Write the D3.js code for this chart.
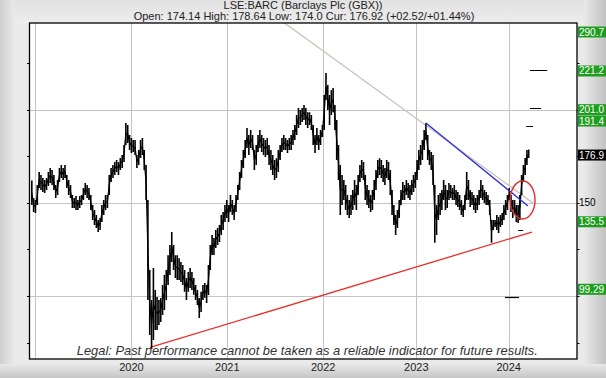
<!DOCTYPE html>
<html><head><meta charset="utf-8">
<script src="https://cdn.jsdelivr.net/npm/d3@7"></script>
<style>body{margin:0;background:#e6e6e6}svg{display:block}</style>
</head><body><svg id="c" width="606" height="378"></svg>
<script>
// ---------------- data ----------------
const titleText = "LSE:BARC (Barclays Plc (GBX))";
const subtitleText = "Open: 174.14 High: 178.64 Low: 174.0 Cur: 176.92 (+02.52/+01.44%)";
const legalText = "Legal:  Past performance cannot  be taken as a reliable indicator for future results.";
const yearGrid = ["2019-01-01","2020-01-01","2021-01-01","2022-01-01","2023-01-01","2024-01-01"];
const yearLabels = ["2020","2021","2022","2023","2024"];
const yMinorTicks = [75,100,125,150,175,200,225];
const yGridTicks = [100,150,200];
const yAxisLabels = [100,150,200];
const firstWeek = "2018-12-17";
// weekly [high, low] in pence
const bars2019 = [
 [161.9,148.8],[152.5,145.0],[151.5,144.5],[159.5,148.8],[166.5,157.9],[164.9,156.8],[163.3,155.8],[162.2,155.2],[163.3,156.8],[166.5,159.0],[168.6,160.6],[167.6,159.5],[164.9,156.8],
 [159.5,152.5],[162.2,154.2],[168.6,161.1],[170.2,163.3],[168.6,162.2],[170.2,163.3],[164.9,157.9],[162.2,154.2],[159.5,152.5],[154.2,147.2],[152.5,147.2],[153.6,146.1],[151.5,146.1],
 [153.6,147.2],[154.2,148.8],[157.9,151.5],[160.6,154.2],[159.5,152.5],[157.9,151.5],[154.2,146.1],[148.8,140.7],[146.1,138.1],[143.4,136.4],[140.7,134.3],[141.8,135.4],[148.8,139.7],
 [151.5,143.4],[154.2,146.1],[154.2,147.2],[164.9,154.2],[168.6,161.1],[170.2,163.3],[171.8,164.9],[172.9,166.5],[171.8,164.9],[174.0,167.6],[175.6,168.6],[181.0,171.8],[192.8,181.0],
 [191.7,182.1],[186.3,178.3],[184.7,176.7]
];
const bars2020 = [
 [183.6,177.2],[183.6,175.6],[175.6,168.6],[178.3,170.2],[183.6,174.0],[184.7,175.6],[178.3,167.6],[170.2,151.5],[151.5,97.9],[113.9,79.1],[97.9,71.6],[115.0,76.4],[103.2,81.8],
 [99.5,81.8],[97.9,84.5],[98.9,86.1],[105.9,89.8],[111.2,92.5],[113.9,97.9],[121.9,105.9],[127.3,111.2],[134.3,118.2],[127.3,113.9],[121.9,109.7],[121.9,108.6],[120.3,108.6],
 [118.2,107.5],[116.6,105.9],[113.9,102.2],[109.7,97.9],[112.8,102.2],[115.0,104.3],[112.8,103.2],[109.7,100.6],[105.9,97.9],[103.2,95.2],[98.9,88.2],[102.2,91.4],[105.9,97.9],
 [107.0,99.0],[105.9,96.3],[116.6,100.5],[127.3,113.9],[132.7,122.0],[131.1,122.0],[135.4,125.7],[136.4,127.3],[138.1,129.0],[143.4,132.7],[145.0,135.4],[148.8,139.7],[151.5,141.8]
];
const bars2021 = [
 [148.8,139.7],[154.2,145.0],[151.5,143.4],[148.8,140.7],[154.2,145.0],[159.5,151.5],[166.5,156.8],[172.9,163.3],[178.3,168.6],[183.6,174.0],[190.1,179.4],[186.3,175.6],[189.0,179.4],
 [186.3,178.3],[178.3,167.6],[181.0,170.2],[186.3,177.2],[189.0,179.4],[186.3,177.2],[184.7,175.6],[183.6,174.5],[184.7,175.6],[181.0,170.2],[178.3,167.6],[175.6,164.9],[172.9,162.2],
 [173.9,163.3],[178.3,166.5],[181.0,172.9],[184.7,177.2],[186.3,178.3],[184.7,178.3],[183.6,176.7],[184.7,178.3],[186.3,178.3],[189.0,181.0],[191.7,183.6],[197.1,186.3],[200.8,190.1],
 [199.7,191.7],[200.8,193.3],[202.4,194.4],[200.8,191.7],[198.6,190.1],[198.6,191.7],[197.1,189.0],[191.7,181.0],[186.3,176.7],[190.1,181.0],[186.3,178.3],[189.0,181.0],[191.7,185.2]
];
const bars2022 = [
 [207.8,189.0],[219.6,205.1],[213.2,199.7],[207.8,191.7],[210.5,197.1],[211.6,198.6],[202.4,189.0],[194.4,172.9],[181.0,162.2],[170.2,143.4],[164.9,148.8],[162.2,151.5],[159.5,146.1],
 [154.2,143.4],[151.5,141.8],[154.2,143.4],[156.8,146.1],[162.2,148.8],[159.5,146.1],[164.9,154.2],[170.2,161.1],[172.9,163.3],[171.8,162.2],[164.9,151.5],[159.5,148.8],[156.8,147.2],
 [154.2,145.0],[156.8,146.1],[162.2,151.5],[167.6,156.8],[172.9,163.3],[173.9,164.9],[172.9,163.3],[170.2,161.1],[168.6,159.5],[172.9,163.3],[171.8,162.2],[167.6,154.2],[156.8,143.4],
 [148.8,138.1],[143.4,132.7],[146.1,136.4],[151.5,141.8],[156.8,148.8],[161.1,151.5],[159.5,151.5],[162.2,154.2],[160.6,152.5],[159.5,151.5],[162.2,154.2],[164.9,155.8],[166.5,157.9]
];
const bars2023 = [
 [172.9,162.2],[178.3,167.6],[181.0,170.2],[183.6,172.9],[189.0,178.3],[192.8,183.6],[186.3,172.9],[178.3,170.2],[177.2,167.6],[175.6,159.5],[159.5,128.6],[148.8,132.7],[154.2,140.7],
 [155.2,143.4],[156.8,146.1],[162.2,151.5],[159.5,146.1],[156.8,147.2],[160.6,151.5],[159.5,152.5],[157.9,151.5],[159.5,151.5],[156.8,148.8],[155.8,147.7],[154.2,146.1],[151.5,143.4],
 [148.8,142.3],[154.2,146.1],[166.5,151.5],[162.2,151.5],[156.8,147.7],[155.8,148.8],[154.2,146.1],[152.5,144.5],[154.2,146.1],[156.8,148.8],[162.2,152.5],[159.5,151.5],[156.8,149.9],
 [155.8,148.8],[154.2,148.8],[151.5,143.4],[140.7,128.6],[140.7,135.4],[140.7,137.0],[143.4,135.4],[142.3,133.8],[143.4,137.0],[144.5,138.1],[148.8,140.7],[151.5,143.4],[154.2,146.1]
];
const bars2024 = [
 [157.9,151.5],[154.2,145.0],[151.5,141.8],[151.5,143.4],[148.8,139.7],[148.8,139.2],[154.2,140.7],[164.9,154.2],[170.2,161.1],[174.0,164.9],[178.3,170.2],[178.6,174.0]
];
// analysis overlays
const greyTrend = [["2021-08-01",247.0],["2024-04-06",149.9]];
const blueTrend = [["2023-02-08",192.8],["2024-03-17",148.3]];
const redTrend  = [["2020-03-12",72.4],["2024-04-02",134.3]];
const circle = {date:"2024-02-25", price:151.5, days:49, pence:10.2};
const targetValues = [290.7, 221.2, 201.0, 191.4, 135.5, 99.29];
const targetLabels = ["290.7","221.2","201.0","191.4","135.5","99.29"];
const targetFrom = [null,"2024-03-25","2024-03-25","2024-03-10","2024-02-07","2023-12-17"];
const targetTo   = [null,"2024-06-01","2024-05-08","2024-04-06","2024-02-27","2024-02-11"];
const currentPrice = 176.92, currentLabel = "176.9";

// ---------------- layout ----------------
const W = 606, H = 378;
const P = {l:29.5, r:577, t:23, b:359};
const svg = d3.select("#c");
const parse = d3.utcParse("%Y-%m-%d");
const allBars = [].concat(bars2019,bars2020,bars2021,bars2022,bars2023,bars2024);
const week0 = parse(firstWeek);
const series = allBars.map((d,i)=>({date:d3.utcDay.offset(week0, i*7+2), hi:d[0], lo:d[1]}));

const pw = P.r - P.l;
const xDomain = [parse("2018-12-10")].concat(yearGrid.map(parse), [parse("2024-09-27")]);
const xRangeFrac = [0, 0.0104, 0.1861, 0.3613, 0.5364, 0.7065, 0.8753, 1];
const x = d3.scaleUtc().domain(xDomain).range(xRangeFrac.map(f=>P.l + f*pw));
const y = d3.scaleLinear().domain([66.2, 246.4]).range([P.b, P.t]);

// ---------------- background frame ----------------
const defs = svg.append("defs");
function grad(id, x2, y2, c0, c1){
  const g = defs.append("linearGradient").attr("id",id).attr("x1",0).attr("y1",0).attr("x2",x2).attr("y2",y2);
  g.append("stop").attr("offset",0).attr("stop-color",c0);
  g.append("stop").attr("offset",1).attr("stop-color",c1);
}
grad("gl",1,0,"#cfcfcf","#e9e9e9");
grad("gr",1,0,"#e9e9e9","#c2c2c2");
grad("gb",0,1,"#e9e9e9","#c6c6c6");
grad("gt",0,1,"#e2e2e2","#ededed");
svg.append("rect").attr("width",W).attr("height",H).attr("fill","#eaeaea");
svg.append("rect").attr("width",W).attr("height",24).attr("fill","url(#gt)");
svg.append("rect").attr("x",0).attr("width",14).attr("height",H).attr("fill","url(#gl)");
svg.append("rect").attr("x",584).attr("width",22).attr("height",H).attr("fill","url(#gr)");
svg.append("rect").attr("y",364).attr("width",W).attr("height",14).attr("fill","url(#gb)");

defs.append("clipPath").attr("id","clip").append("rect")
  .attr("x",P.l).attr("y",P.t).attr("width",pw).attr("height",P.b-P.t);

svg.append("rect").attr("x",P.l).attr("y",P.t).attr("width",pw).attr("height",P.b-P.t).attr("fill","#fff");

const grid = svg.append("g").attr("stroke","#c4c4c4").attr("stroke-width",1);
yearGrid.forEach(d=>{ const xx=Math.round(x(parse(d)))+0.5;
  grid.append("line").attr("x1",xx).attr("x2",xx).attr("y1",P.t).attr("y2",P.b); });
yGridTicks.forEach(v=>{ const yy=Math.round(y(v))+0.5;
  grid.append("line").attr("x1",P.l).attr("x2",P.r).attr("y1",yy).attr("y2",yy); });

svg.append("text").attr("x",(P.l+P.r)/2+4).attr("y",354.5).attr("text-anchor","middle")
  .attr("font-family","Liberation Sans, Arial, sans-serif").attr("font-style","italic")
  .attr("font-size",12.4).attr("fill","#333").attr("textLength",461).attr("lengthAdjust","spacingAndGlyphs")
  .text(legalText);

const plot = svg.append("g").attr("clip-path","url(#clip)");
const line = d3.line().x(d=>x(parse(d[0]))).y(d=>y(d[1]));
plot.append("path").attr("d",line(greyTrend)).attr("stroke","#c8c2b8").attr("stroke-width",1.3).attr("fill","none");
plot.append("path").attr("d",line(redTrend)).attr("stroke","#e8302a").attr("stroke-width",1.3).attr("fill","none");

const mid = d3.line().x(d=>x(d.date)).y(d=>y((d.hi+d.lo)/2));
plot.append("path").attr("d",mid(series)).attr("stroke","#000").attr("stroke-width",1.2).attr("fill","none");
plot.selectAll("line.bar").data(series).join("line").attr("class","bar")
  .attr("x1",d=>x(d.date)).attr("x2",d=>x(d.date))
  .attr("y1",d=>y(d.hi)).attr("y2",d=>y(d.lo))
  .attr("stroke","#000").attr("stroke-width",1.6);

plot.append("path").attr("d",line(blueTrend)).attr("stroke","#2b2bd8").attr("stroke-width",1.3).attr("fill","none");

targetValues.forEach((v,i)=>{ if(!targetFrom[i]) return;
  plot.append("line").attr("x1",x(parse(targetFrom[i]))).attr("x2",x(parse(targetTo[i])))
    .attr("y1",Math.round(y(v))+0.5).attr("y2",Math.round(y(v))+0.5).attr("stroke","#000").attr("stroke-width",1.2);
});
const cd = parse(circle.date);
plot.append("ellipse").attr("cx",x(cd)).attr("cy",y(circle.price))
  .attr("rx",x(d3.utcDay.offset(cd,circle.days))-x(cd)).attr("ry",y(circle.price-circle.pence)-y(circle.price))
  .attr("fill","none").attr("stroke","#e0302a").attr("stroke-width",1.4);

svg.append("rect").attr("x",P.l).attr("y",P.t).attr("width",pw).attr("height",P.b-P.t)
  .attr("fill","none").attr("stroke","#000").attr("stroke-width",1.3);
yMinorTicks.forEach(v=>{ const yy=Math.round(y(v))+0.5;
  svg.append("line").attr("x1",P.l-2.5).attr("x2",P.l).attr("y1",yy).attr("y2",yy).attr("stroke","#000");
  svg.append("line").attr("x1",P.r).attr("x2",P.r+2.5).attr("y1",yy).attr("y2",yy).attr("stroke","#000");
});

const font = "Liberation Sans, Arial, sans-serif";
yearLabels.forEach(t=>{
  svg.append("text").attr("x",x(parse(t+"-01-01"))).attr("y",371).attr("text-anchor","middle")
    .attr("font-family",font).attr("font-size",11).attr("fill","#222").text(t);
});
svg.append("text").attr("x",W/2).attr("y",8.5).attr("text-anchor","middle").attr("font-family",font)
  .attr("font-size",11).attr("fill","#222").text(titleText);
svg.append("text").attr("x",W/2+1).attr("y",20).attr("text-anchor","middle").attr("font-family",font)
  .attr("font-size",11).attr("fill","#222").text(subtitleText);

// right labels
const labelNudge = [0, 1, 2, -4.5, -8, -8];
const boxes = targetValues.map((v,i)=>({v, t:targetLabels[i], c: Math.max(P.t+9, y(v)) + labelNudge[i], fill:"#1e9e1e"}));
boxes.push({v:currentPrice, t:currentLabel, c:y(currentPrice)+2.5, fill:"#000"});
yAxisLabels.forEach(v=>{ const c=y(v);
  if (boxes.some(b=>Math.abs(b.c-c)<11)) return;
  svg.append("text").attr("x",P.r+2).attr("y",c+3.5).attr("font-family",font).attr("font-size",10).attr("fill","#000").text(v);
});
boxes.forEach(b=>{
  svg.append("rect").attr("x",P.r+1).attr("y",b.c-5.5).attr("width",W-P.r-1).attr("height",11).attr("fill",b.fill);
  svg.append("text").attr("x",P.r+2).attr("y",b.c+3.5).attr("font-family",font).attr("font-size",10)
    .attr("fill","#fff").text(b.t);
});
</script></body></html>
